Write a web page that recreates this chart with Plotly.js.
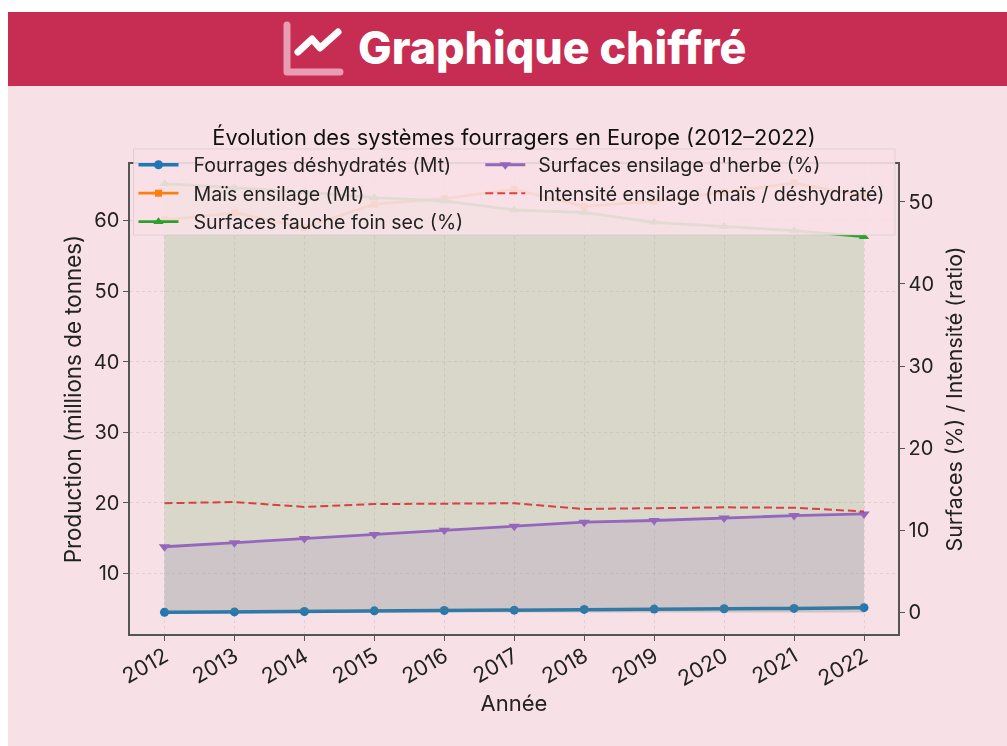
<!DOCTYPE html>
<html lang="fr">
<head>
<meta charset="utf-8">
<title>Graphique chiffré</title>
<script src="https://cdn.plot.ly/plotly-3.0.1.min.js"></script>
<style>
html,body{margin:0;padding:0;background:#fff;width:1007px;height:746px;overflow:hidden}
#page{position:absolute;left:8px;top:12px;width:999px;height:734px;background:#f7e0e6}
#band{position:absolute;left:8px;top:12px;width:999px;height:74px;background:#c72c52}
#icon{position:absolute;left:0;top:0}
#head{position:absolute;left:358px;top:21px;font:800 44.8px Inter,sans-serif;color:#fff;white-space:nowrap;line-height:54px}
#chart{position:absolute;left:0;top:0;width:1007px;height:746px;filter:blur(0.35px)}
#chart .legendtext{transform:translateX(10px)}
#chart .legend2text{transform:translateX(8px)}
#chart .scrollbox{clip-path:none !important}
</style>
</head>
<body>
<div id="page"></div>
<div id="band"></div>
<svg id="icon" width="400" height="90">
<polyline points="287,25 287,72 340,72" fill="none" stroke="#e89db0" stroke-width="7" stroke-linecap="round" stroke-linejoin="round"/>
<polyline points="298,52 312,39 320,48 338,32" fill="none" stroke="#fff" stroke-width="7" stroke-linecap="round" stroke-linejoin="round"/>
</svg>
<div id="head">Graphique chiffré</div>
<div id="chart"></div>
<script>
const years = ["2012","2013","2014","2015","2016","2017","2018","2019","2020","2021","2022"];
const yearNums = [2012,2013,2014,2015,2016,2017,2018,2019,2020,2021,2022];
const fourrages = [4.5,4.55,4.6,4.7,4.75,4.8,4.9,4.95,5.0,5.05,5.15];
const mais = [60.1,61.1,59.0,62.3,63.1,64.4,62.0,62.7,64.0,65.3,63.5];
const fauche = [52.2,51.7,51.2,50.5,50.1,49.0,48.7,47.5,47.0,46.5,45.75];
const herbe = [8.0,8.5,9.0,9.5,10.0,10.5,11.0,11.2,11.5,11.8,12.0];
const intensite = [13.3,13.45,12.85,13.2,13.25,13.3,12.6,12.7,12.8,12.75,12.3];
const names = ["Fourrages déshydratés (Mt)","Maïs ensilage (Mt)","Surfaces fauche foin sec (%)","Surfaces ensilage d'herbe (%)","Intensité ensilage (maïs / déshydraté)"];
const font = "Inter, sans-serif";
const ink = "#222";
const traces = [
 {x:yearNums,y:fourrages,name:names[0],mode:"lines+markers",line:{color:"#1f77b4",width:3.5},marker:{symbol:"circle",size:9,color:"#1f77b4"},legend:"legend",hoverinfo:"skip"},
 {x:yearNums,y:mais,name:names[1],mode:"lines+markers",line:{color:"#ff7f0e",width:2.8},marker:{symbol:"square",size:7,color:"#ff7f0e"},legend:"legend",hoverinfo:"skip"},
 {x:yearNums,y:fauche,yaxis:"y2",mode:"none",fill:"tozeroy",fillcolor:"rgba(44,160,44,0.15)",showlegend:false,hoverinfo:"skip"},
 {x:yearNums,y:herbe,yaxis:"y2",mode:"none",fill:"tozeroy",fillcolor:"rgba(148,103,189,0.15)",showlegend:false,hoverinfo:"skip"},
 {x:yearNums,y:fauche,yaxis:"y2",name:names[2],mode:"lines+markers",line:{color:"#2ca02c",width:2.8},marker:{symbol:"triangle-up",size:9,color:"#2ca02c"},legend:"legend",hoverinfo:"skip"},
 {x:yearNums,y:herbe,yaxis:"y2",name:names[3],mode:"lines+markers",line:{color:"#9467bd",width:2.8},marker:{symbol:"triangle-down",size:10,color:"#9467bd"},legend:"legend2",hoverinfo:"skip"},
 {x:yearNums,y:intensite,yaxis:"y2",name:names[4],mode:"lines",line:{color:"#d62728",width:2,dash:"8px,4px"},opacity:0.85,legend:"legend2",hoverinfo:"skip"}
];
const grid = "rgba(120,120,120,0.16)";
const legendBase = {orientation:"v",xanchor:"left",y:(634-145.5)/470,yanchor:"top",bgcolor:"rgba(0,0,0,0)",borderwidth:0,itemwidth:40,font:{family:font,size:19.6,color:"#222"},traceorder:"normal"};
const layout = {
 width:1007,height:746,
 paper_bgcolor:"rgba(0,0,0,0)",plot_bgcolor:"rgba(0,0,0,0)",
 margin:{l:129.5,r:109,t:164,b:112,pad:0},
 font:{family:font,color:ink,size:20},
 title:{text:"Évolution des systèmes fourragers en Europe (2012–2022)",font:{family:font,size:21.8,color:"#111"},x:514/1007,xanchor:"center",y:1-137/746,yanchor:"middle"},
 xaxis:{range:[2011.507,2022.486],tickmode:"array",tickvals:yearNums,ticktext:years,tickangle:-30,ticks:"outside",ticklen:5,tickcolor:"#555",showline:true,mirror:true,linecolor:"#555",linewidth:1.6,showgrid:true,gridcolor:grid,griddash:"3px,3px",zeroline:false,tickfont:{size:21.5},ticklabelstandoff:-5,title:{text:"Année",font:{size:22},standoff:5}},
 yaxis:{range:[1.42,68.0],tickvals:[10,20,30,40,50,60],ticks:"outside",ticklen:5,tickcolor:"#555",showline:true,linecolor:"#555",linewidth:1.6,showgrid:true,gridcolor:grid,griddash:"3px,3px",zeroline:false,tickfont:{size:20},title:{text:"Production (millions de tonnes)",font:{size:22.4},standoff:6}},
 yaxis2:{overlaying:"y",side:"right",range:[-2.62,54.6],tickvals:[0,10,20,30,40,50],ticks:"outside",ticklen:5,tickcolor:"#555",showline:true,linecolor:"#555",linewidth:1.6,showgrid:false,zeroline:false,tickfont:{size:20},title:{text:"Surfaces (%) / Intensité (ratio)",font:{size:21.4},standoff:14}},
 legend:Object.assign({},legendBase,{x:(133-129.5)/768.5}),
 legend2:Object.assign({},legendBase,{x:(480-129.5)/768.5}),
 shapes:[{type:"rect",xref:"paper",yref:"paper",layer:"above",x0:(133-129.5)/768.5,x1:(895-129.5)/768.5,y0:(634-235)/470,y1:(634-149)/470,fillcolor:"rgba(247,224,230,0.9)",line:{color:"rgba(190,190,190,0.45)",width:1}}]
};
Plotly.newPlot("chart",traces,layout,{displayModeBar:false,staticPlot:true});
</script>
</body>
</html>
